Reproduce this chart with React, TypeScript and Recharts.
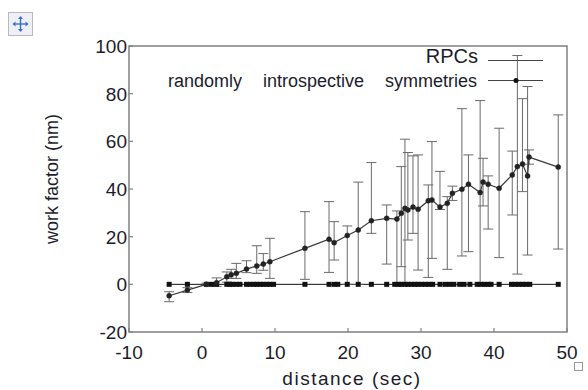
import React from "react";
import {
  LineChart, Line, XAxis, YAxis, ErrorBar, Legend, ReferenceArea
} from "recharts";

// rising series: "randomly introspective symmetries"
const symX = [-4.5, -2.0, 0.6, 2.0, 3.4, 4.0, 4.7, 6.1, 7.5, 8.4, 9.3, 14.1, 17.4, 18.1, 19.9, 21.4, 23.2, 25.3, 26.7, 27.3, 27.8, 28.2, 28.9, 29.6, 31.0, 31.5, 32.6, 33.6, 34.3, 35.6, 36.5, 38.1, 38.5, 39.2, 40.7, 42.5, 43.2, 43.9, 44.6, 44.8, 48.8];
const symY = [-4.8, -2.4, 0, 0.7, 3.2, 4.0, 4.6, 6.4, 7.7, 8.5, 9.5, 15.1, 18.9, 17.5, 20.5, 22.8, 26.7, 27.7, 27.4, 29.8, 31.9, 31.2, 32.4, 31.5, 35.1, 35.4, 32.4, 34.0, 38.2, 39.9, 42.0, 38.5, 42.9, 42.0, 40.3, 45.9, 49.4, 50.5, 45.5, 53.4, 49.2];
const symErrLow = [2.5, 1, 0.5, 1.5, 2.3, 1.5, 2.1, 1.5, 3.1, 2.6, 7, 13, 13.9, 7.3, 20.5, 22.8, 5.3, 19.2, 27.4, 22.4, 31.9, 12.6, 11, 25.5, 32.2, 24.5, 1, 27.7, 3, 28, 28.3, 38.5, 10, 18.8, 29.1, 16.8, 45.1, 11.6, 33.2, 3, 34.4];
const symErrHigh = [1.7, 1, 0.5, 2, 2, 2.3, 4.2, 3.5, 8.5, 4.4, 9.8, 15.4, 15.8, 8.8, 4, 20.1, 24.4, 5.6, 3.4, 19.6, 29, 24.1, 21.5, 22.8, 6.6, 24.5, 15, 2.8, 3, 33.8, 12.3, 38.6, 10, 3.5, 25.2, 10, 46.6, 27.4, 37.5, 3, 21.9];

// flat series: "RPCs"
const rpcX = [-4.5, -2.0, 0.6, 1.3, 2.0, 3.4, 3.8, 4.2, 4.7, 5.2, 6.1, 6.6, 7.1, 7.5, 8.0, 8.4, 8.9, 9.3, 9.8, 14.1, 17.4, 18.1, 18.6, 19.9, 21.4, 23.2, 25.3, 26.4, 26.9, 27.3, 27.8, 28.2, 28.7, 29.2, 29.6, 30.1, 30.6, 31.1, 31.6, 32.6, 33.3, 33.9, 34.5, 35.3, 35.9, 36.7, 37.7, 38.2, 38.7, 39.2, 39.6, 40.7, 42.4, 42.9, 43.4, 43.9, 44.4, 44.9, 48.8];
const rpcY = rpcX.map(() => 0);

const xTicks = [-10, 0, 10, 20, 30, 40, 50];
const yTicks = [-20, 0, 20, 40, 60, 80, 100];

const symData = symX.map((x, i) => ({ x, y: symY[i], err: [symErrLow[i], symErrHigh[i]] }));
const rpcData = rpcX.map((x, i) => ({ x, y: rpcY[i] }));

const FONT = "'Liberation Sans', Arial, sans-serif";
const AXIS = "#808080";
const TXT = "#1c1c2c";

// plot box in pixels (the frame is drawn from the axes scales, these are only for tick marks)
const BottomTick = ({ x, y, payload }: any) => (
  <g>
    <path d={`M${x},${y}V${y - 4}`} stroke={AXIS} strokeWidth={1.2} fill="none" />
    <text x={x} y={y + 27} textAnchor="middle" fontFamily={FONT} fontSize={19} fill={TXT}>{payload.value}</text>
  </g>
);

const LeftTick = ({ x, y, payload }: any) => (
  <g>
    <path d={`M${x},${y}H${x + 4}`} stroke={AXIS} strokeWidth={1.2} fill="none" />
    <text x={x - 2} y={y + 7} textAnchor="end" fontFamily={FONT} fontSize={19} fill={TXT}>{payload.value}</text>
  </g>
);

const TopTick = ({ x, y }: any) => (
  <path d={`M${x},${y}V${y + 4}`} stroke={AXIS} strokeWidth={1.2} fill="none" />
);

const RightTick = ({ x, y }: any) => (
  <path d={`M${x},${y}H${x - 4}`} stroke={AXIS} strokeWidth={1.2} fill="none" />
);

const SquareDot = (props: any) => {
  const { cx, cy, index } = props;
  return <rect key={`sq-${index}`} x={cx - 2.5} y={cy - 2.5} width={5} height={5} fill="#111" />;
};

const LegendBox = () => (
  <svg width={588} height={100}>
    <text x={478} y={63} textAnchor="end" fontFamily={FONT} fontSize={20} fill={TXT}>RPCs</text>
    <line x1={488} x2={543} y1={60.5} y2={60.5} stroke="#444" strokeWidth={1.2} />
    <text x={477} y={86.5} textAnchor="end" fontFamily={FONT} fontSize={18} fill={TXT} style={{ wordSpacing: 16 }}>
      randomly introspective symmetries
    </text>
    <line x1={488} x2={543} y1={80.5} y2={80.5} stroke="#444" strokeWidth={1.2} />
    <circle cx={516} cy={80.5} r={2.5} fill="#111" />
  </svg>
);

export default function App() {
  return (
    <div style={{ position: "fixed", left: 0, top: 0, width: 588, height: 390, background: "#fff" }}>
      <svg width={26} height={25} style={{ position: "absolute", left: 8, top: 12 }}>
        <rect x={0.5} y={0.5} width={24} height={23} fill="#eef0f6" stroke="#b8b8c0" />
        <g stroke="#3a6fd0" strokeWidth={1.4} fill="#3a6fd0">
          <line x1={12.5} y1={5} x2={12.5} y2={19} />
          <line x1={5.5} y1={12} x2={19.5} y2={12} />
          <path d="M12.5 4 L10 7 L15 7 Z" strokeWidth={0} />
          <path d="M12.5 20 L10 17 L15 17 Z" strokeWidth={0} />
          <path d="M4.5 12 L7.5 9.5 L7.5 14.5 Z" strokeWidth={0} />
          <path d="M20.5 12 L17.5 9.5 L17.5 14.5 Z" strokeWidth={0} />
        </g>
      </svg>
      <div style={{ position: "absolute", left: 574, top: 362, width: 7, height: 7, border: "1px solid #999" }} />
      <LineChart width={588} height={390} margin={{ top: 46, right: 21, bottom: 28, left: 69 }}>
        <XAxis
          xAxisId="b"
          dataKey="x"
          type="number"
          domain={[-10, 50]}
          ticks={xTicks}
          allowDataOverflow
          height={30}
          tickSize={0}
          tickMargin={0}
          tickLine={false}
          axisLine={false}
          tick={<BottomTick />}
          label={{
            value: "distance (sec)",
            content: () => (
              <text x={352} y={385} textAnchor="middle" fontFamily={FONT} fontSize={19} letterSpacing={1.5} fill={TXT}>
                distance (sec)
              </text>
            ),
          }}
        />
        <XAxis
          xAxisId="t"
          orientation="top"
          dataKey="x"
          type="number"
          domain={[-10, 50]}
          ticks={xTicks}
          allowDataOverflow
          height={0}
          tickSize={0}
          tickMargin={0}
          tickLine={false}
          axisLine={false}
          tick={<TopTick />}
        />
        <YAxis
          yAxisId="l"
          type="number"
          domain={[-20, 100]}
          ticks={yTicks}
          allowDataOverflow
          width={60}
          tickSize={0}
          tickMargin={0}
          tickLine={false}
          axisLine={false}
          tick={<LeftTick />}
          label={{
            value: "work factor (nm)",
            content: () => (
              <text x={58} y={179} transform="rotate(-90 58 179)" textAnchor="middle" fontFamily={FONT} fontSize={18} fill={TXT}>
                work factor (nm)
              </text>
            ),
          }}
        />
        <YAxis
          yAxisId="r"
          orientation="right"
          type="number"
          domain={[-20, 100]}
          ticks={yTicks}
          allowDataOverflow
          width={0}
          tickSize={0}
          tickMargin={0}
          tickLine={false}
          axisLine={false}
          tick={<RightTick />}
        />
        <ReferenceArea
          xAxisId="b"
          yAxisId="l"
          x1={-10}
          x2={50}
          y1={-20}
          y2={100}
          ifOverflow="visible"
          fill="none"
          fillOpacity={0}
          stroke={AXIS}
          strokeWidth={1.5}
          strokeOpacity={1}
        />
        <Legend layout="vertical" align="center" verticalAlign="middle" content={<LegendBox />}
          wrapperStyle={{ position: "absolute", left: 0, top: 0, width: 588, height: 100 }} />
        <Line
          xAxisId="b"
          yAxisId="l"
          data={rpcData}
          dataKey="y"
          name="RPCs"
          stroke="#111"
          strokeWidth={1}
          dot={SquareDot}
          activeDot={false}
          isAnimationActive={false}
        />
        <Line
          xAxisId="b"
          yAxisId="l"
          data={symData}
          dataKey="y"
          name="randomly introspective symmetries"
          stroke="#3a3a3a"
          strokeWidth={1.2}
          dot={{ r: 2.5, fill: "#222", stroke: "#222", strokeWidth: 0.5 }}
          activeDot={false}
          isAnimationActive={false}
        >
          <ErrorBar dataKey="err" direction="y" width={5} stroke="#6a6a6a" strokeWidth={1} />
        </Line>
        {/* dummy series so the mirrored frame axes get a domain */}
        <Line xAxisId="t" yAxisId="r" data={rpcData} dataKey="y" stroke="none" dot={false} activeDot={false} isAnimationActive={false} legendType="none" />
      </LineChart>
    </div>
  );
}
